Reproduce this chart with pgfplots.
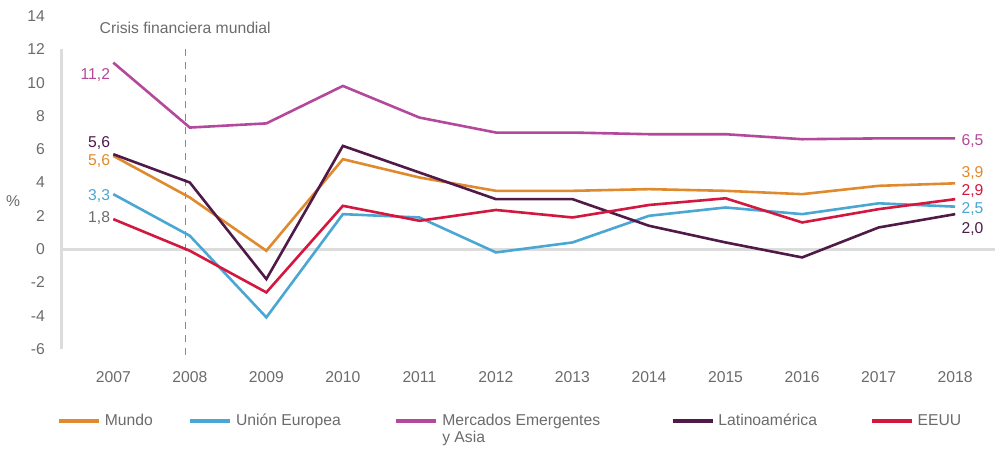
\documentclass[border=0pt]{standalone}
\usepackage{pgfplots}
\pgfplotsset{compat=1.18}
\usepackage{fontspec}
\setmainfont{Liberation Sans}
\definecolor{cMundo}{HTML}{E08A2E}
\definecolor{cUE}{HTML}{4AA6D3}
\definecolor{cEM}{HTML}{B4489A}
\definecolor{cLat}{HTML}{4F1A47}
\definecolor{cUS}{HTML}{D3173E}
\definecolor{txt}{HTML}{6B6B6B}
\definecolor{gridg}{HTML}{DCDCDC}
\begin{document}
\fontsize{15.7}{17}\selectfont
\begin{tikzpicture}
\begin{axis}[
 scale only axis, width=933pt, height=333pt,
 xmin=2006.33, xmax=2018.52, ymin=-6, ymax=14,
 axis line style={draw=none}, major tick length=0pt,
 xtick={2007,...,2018}, ytick={-6,-4,...,14},
 /pgf/number format/assume math mode=true,
 xticklabel style={/pgf/number format/1000 sep={}, anchor=center, inner sep=0pt, yshift=-28pt},
 yticklabel style={anchor=east, inner sep=0pt, xshift=-17pt},
 ticklabel style={text=txt, font=\fontsize{15.7}{17}\selectfont},
 clip=false,
 legend columns=5,
 legend style={at={(-0.0054,-0.19)}, anchor=north west, draw=none, fill=none, inner sep=0pt,
   cells={anchor=west}, nodes={inner sep=1.5pt, text=txt, font=\fontsize{15.7}{17}\selectfont},
   /tikz/column sep=0pt},
 legend image code/.code={\draw[#1, line width=3.8pt] (0pt,0pt) -- (40pt,0pt); \path (43pt,0pt);},
]
\draw[gridg, line width=3pt] (axis cs:2006.33,0) -- (axis cs:2018.52,0);
\draw[gridg, line width=3pt] (axis cs:2006.33,12) -- (axis cs:2006.33,-6);
\draw[txt!80, line width=1pt, dash pattern=on 7pt off 6pt] (axis cs:2007.94,12) -- (axis cs:2007.94,-6.6);

\addplot[cMundo, line width=2.6pt] coordinates {(2007,5.6) (2008,3.1) (2009,-0.1) (2010,5.4) (2011,4.3) (2012,3.5) (2013,3.5) (2014,3.6) (2015,3.5) (2016,3.3) (2017,3.8) (2018,3.95)};
\addlegendentry{\makebox[82pt][l]{Mundo}}
\addplot[cUE, line width=2.6pt] coordinates {(2007,3.3) (2008,0.8) (2009,-4.1) (2010,2.1) (2011,1.9) (2012,-0.2) (2013,0.4) (2014,2.0) (2015,2.5) (2016,2.1) (2017,2.75) (2018,2.55)};
\addlegendentry{\makebox[157pt][l]{Unión Europea}}
\addplot[cEM, line width=2.6pt] coordinates {(2007,11.2) (2008,7.3) (2009,7.55) (2010,9.8) (2011,7.9) (2012,7.0) (2013,7.0) (2014,6.9) (2015,6.9) (2016,6.6) (2017,6.65) (2018,6.65)};
\addlegendentry{\makebox[227pt][l]{\vphantom{M}\smash{\parbox[t]{227pt}{Mercados Emergentes\\y Asia}}}}
\addplot[cLat, line width=2.6pt] coordinates {(2007,5.7) (2008,4.0) (2009,-1.8) (2010,6.2) (2011,4.6) (2012,3.0) (2013,3.0) (2014,1.4) (2015,0.4) (2016,-0.5) (2017,1.3) (2018,2.1)};
\addlegendentry{\makebox[150pt][l]{Latinoamérica}}
\addplot[cUS, line width=2.6pt] coordinates {(2007,1.8) (2008,-0.1) (2009,-2.6) (2010,2.6) (2011,1.7) (2012,2.35) (2013,1.9) (2014,2.65) (2015,3.05) (2016,1.6) (2017,2.4) (2018,3.0)};
\addlegendentry{EEUU}

\node[text=txt] at (axis cs:2007.94,13.3) {Crisis financiera mundial};
\node[text=txt] at (axis cs:2005.69,2.9) {\%};
\node[anchor=east, inner sep=0pt, text=cEM] at (axis cs:2006.96,10.44) {11,2};
\node[anchor=east, inner sep=0pt, text=cLat] at (axis cs:2006.96,6.36) {5,6};
\node[anchor=east, inner sep=0pt, text=cMundo] at (axis cs:2006.96,5.28) {5,6};
\node[anchor=east, inner sep=0pt, text=cUE] at (axis cs:2006.96,3.18) {3,3};
\node[anchor=east, inner sep=0pt, text=txt] at (axis cs:2006.96,1.86) {1,8};
\node[anchor=west, inner sep=0pt, text=cEM] at (axis cs:2018.08,6.48) {6,5};
\node[anchor=west, inner sep=0pt, text=cMundo] at (axis cs:2018.08,4.56) {3,9};
\node[anchor=west, inner sep=0pt, text=cUS] at (axis cs:2018.08,3.48) {2,9};
\node[anchor=west, inner sep=0pt, text=cUE] at (axis cs:2018.08,2.4) {2,5};
\node[anchor=west, inner sep=0pt, text=cLat] at (axis cs:2018.08,1.2) {2,0};
\end{axis}
\pgfresetboundingbox
\useasboundingbox (-62pt,-99pt) rectangle (936pt,349pt);
\end{tikzpicture}
\end{document}
